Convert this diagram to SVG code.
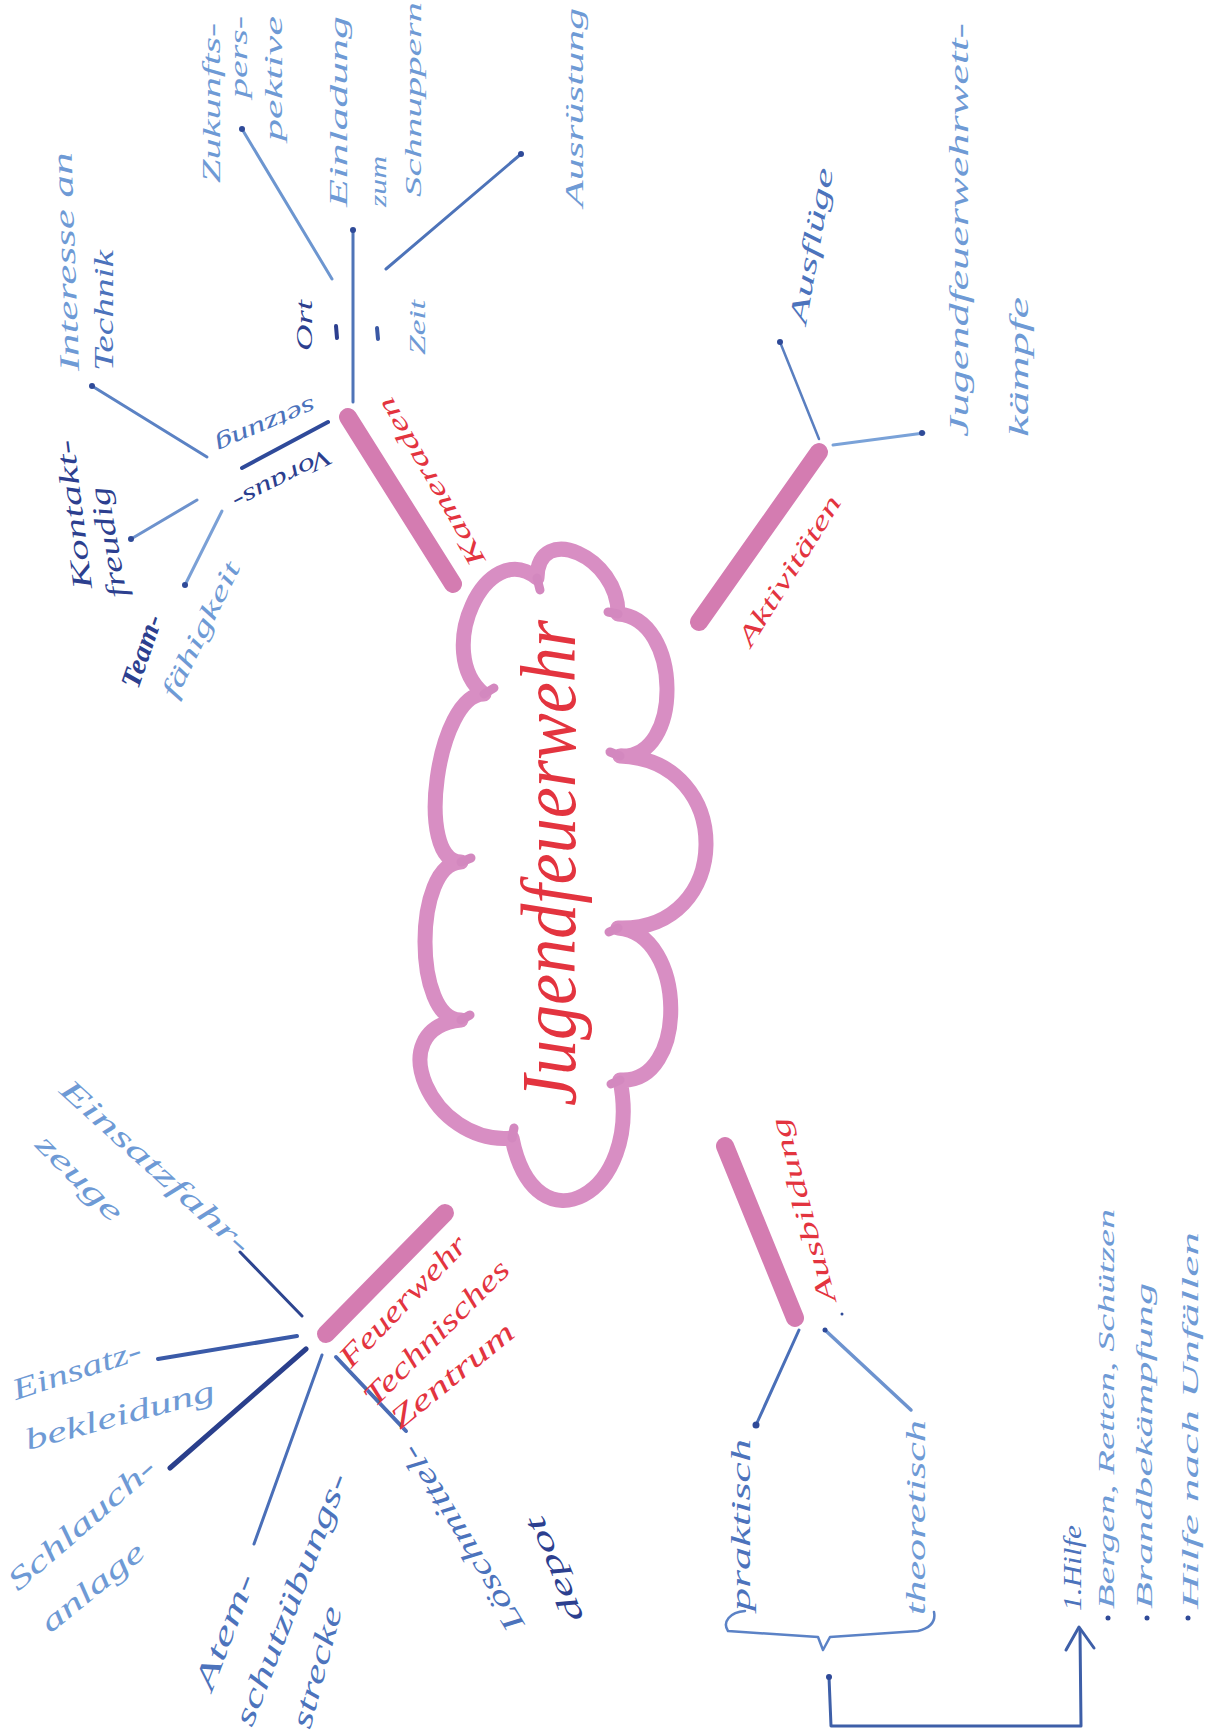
<svg xmlns="http://www.w3.org/2000/svg" width="1224" height="1731" viewBox="0 0 1224 1731">
<style>
.hw{font-family:"Liberation Serif","DejaVu Serif",serif;font-style:italic}
.red{fill:#e3343f}
.lb{fill:#6e9ad5}
.mb{fill:#4c73bc}
.db{fill:#2c3f8f}
.bar{stroke:#d47cb1;stroke-width:18;stroke-linecap:round;fill:none}
.cloud{stroke:#d88ec3;stroke-width:15;fill:none;stroke-linecap:round;stroke-linejoin:round}
.tick{stroke:#d388bf;stroke-width:9;stroke-linecap:round}
.c{fill:none;stroke-linecap:round;stroke-linejoin:round}
.dot{fill:#2f4a98}
</style>
<rect x="0" y="0" width="1224" height="1731" fill="#ffffff"/>

<g id="center">
<path class="cloud" d="M537,578 C538,521 619,557 618,614 C682,618 684,760 620,756 C736,760 734,932 618,928 C687,933 689,1085 620,1080 C643,1195 535,1253 512,1138 C431,1146 380,1028 461,1020 C413,1021 413,863 461,862 C414,862 437,694 484,694 C433,653 486,537 537,578 Z"/>
<line class="tick" x1="537" y1="578" x2="540" y2="590"/>
<line class="tick" x1="618" y1="614" x2="608" y2="612"/>
<line class="tick" x1="620" y1="756" x2="610" y2="752"/>
<line class="tick" x1="618" y1="928" x2="609" y2="932"/>
<line class="tick" x1="620" y1="1080" x2="611" y2="1084"/>
<line class="tick" x1="512" y1="1138" x2="514" y2="1128"/>
<line class="tick" x1="461" y1="1020" x2="470" y2="1015"/>
<line class="tick" x1="461" y1="862" x2="471" y2="858"/>
<line class="tick" x1="484" y1="694" x2="494" y2="688"/>
<text class="hw red" font-size="78" textLength="486" lengthAdjust="spacingAndGlyphs" transform="translate(575,1106) rotate(-90)">Jugendfeuerwehr</text>
</g>

<g id="connectors">
<line class="bar" x1="348" y1="417" x2="453" y2="584"/>
<line class="bar" x1="819" y1="452" x2="699" y2="622"/>
<line class="bar" x1="445" y1="1213" x2="326" y2="1334"/>
<line class="bar" x1="725" y1="1146" x2="795" y2="1318"/>

<line class="c" x1="328" y1="422" x2="242" y2="468" stroke="#2f4a9a" stroke-width="4"/>
<line class="c" x1="207" y1="457" x2="92" y2="386" stroke="#5b82c4" stroke-width="3"/>
<line class="c" x1="197" y1="500" x2="131" y2="539" stroke="#6d92cd" stroke-width="3"/>
<line class="c" x1="222" y1="511" x2="185" y2="585" stroke="#7aa0d6" stroke-width="3"/>
<line class="c" x1="353" y1="402" x2="353" y2="230" stroke="#4f74b8" stroke-width="3"/>
<line class="c" x1="332" y1="279" x2="242" y2="129" stroke="#6d96d0" stroke-width="3"/>
<line class="c" x1="386" y1="269" x2="521" y2="154" stroke="#4d73b9" stroke-width="3"/>
<line class="c" x1="336" y1="326" x2="337" y2="338" stroke="#2c3f8f" stroke-width="4"/>
<line class="c" x1="377" y1="328" x2="378" y2="339" stroke="#3a58a4" stroke-width="4"/>

<line class="c" x1="819" y1="439" x2="780" y2="342" stroke="#5a7fc0" stroke-width="2.5"/>
<line class="c" x1="833" y1="445" x2="924" y2="433" stroke="#7aa2d8" stroke-width="3"/>

<line class="c" x1="302" y1="1316" x2="240" y2="1252" stroke="#2d4590" stroke-width="3"/>
<line class="c" x1="297" y1="1336" x2="158" y2="1359" stroke="#3a5aa8" stroke-width="4"/>
<line class="c" x1="306" y1="1349" x2="170" y2="1468" stroke="#2a3f8c" stroke-width="5"/>
<line class="c" x1="322" y1="1355" x2="254" y2="1544" stroke="#4a6fb8" stroke-width="3"/>
<line class="c" x1="336" y1="1357" x2="406" y2="1431" stroke="#4a6cb5" stroke-width="4"/>

<line class="c" x1="799" y1="1330" x2="756" y2="1425" stroke="#4a6fb8" stroke-width="3"/>
<line class="c" x1="825" y1="1330" x2="911" y2="1410" stroke="#6d93cf" stroke-width="3.5"/>
<path class="c" d="M745,1611 C730,1612 722,1622 728,1631 L818,1637 L823,1650 L830,1637 L918,1631 C930,1628 936,1622 934,1612" stroke="#5b82c6" stroke-width="2.5"/>
<path class="c" d="M829,1677 L831,1726 L1081,1726 L1080,1630" stroke="#3e5fa8" stroke-width="3"/>
<path class="c" d="M1066,1650 L1079,1627 L1094,1648" stroke="#3e5fa8" stroke-width="3"/>

<circle class="dot" cx="92" cy="386" r="3"/>
<circle class="dot" cx="131" cy="539" r="3"/>
<circle class="dot" cx="185" cy="585" r="3"/>
<circle class="dot" cx="353" cy="230" r="3"/>
<circle class="dot" cx="242" cy="129" r="3"/>
<circle class="dot" cx="521" cy="154" r="3"/>
<circle class="dot" cx="780" cy="342" r="3"/>
<circle class="dot" cx="922" cy="433" r="3"/>
<circle class="dot" cx="756" cy="1425" r="3.5"/>
<circle class="dot" cx="825" cy="1330" r="2.5"/>
<circle class="dot" cx="829" cy="1677" r="3"/>
<circle class="dot" cx="842" cy="1314" r="1.5"/>
</g>

<g id="kameraden">
<text class="hw red" font-size="26" textLength="190" lengthAdjust="spacingAndGlyphs" transform="translate(486,560) rotate(-120)">Kameraden</text>
</g>
<g id="voraussetzung">
<text class="hw db" font-size="24" textLength="108" lengthAdjust="spacingAndGlyphs" transform="translate(327,448) rotate(153)">Voraus-</text>
<text class="hw mb" font-size="24" textLength="107" lengthAdjust="spacingAndGlyphs" transform="translate(312,398) rotate(157)">setzung</text>
</g>
<g id="interesse">
<text class="hw lb" font-size="28" textLength="219" lengthAdjust="spacingAndGlyphs" transform="translate(79,371) rotate(-92)">Interesse an</text>
<text class="hw mb" font-size="28" textLength="121" lengthAdjust="spacingAndGlyphs" transform="translate(113,371) rotate(-90)">Technik</text>
</g>
<g id="kontakt">
<text class="hw db" font-size="28" textLength="150" lengthAdjust="spacingAndGlyphs" transform="translate(92,588) rotate(-97)">Kontakt-</text>
<text class="hw db" font-size="28" textLength="112" lengthAdjust="spacingAndGlyphs" transform="translate(127,596) rotate(-100)">freudig</text>
</g>
<g id="team">
<text class="hw db" font-size="28" font-weight="bold" textLength="76" lengthAdjust="spacingAndGlyphs" transform="translate(138,690) rotate(-71)">Team-</text>
<text class="hw lb" font-size="26" textLength="148" lengthAdjust="spacingAndGlyphs" transform="translate(176,700) rotate(-64)">fähigkeit</text>
</g>
<g id="ort">
<text class="hw db" font-size="24" textLength="51" lengthAdjust="spacingAndGlyphs" transform="translate(312,351) rotate(-90)">Ort</text>
</g>
<g id="zeit">
<text class="hw lb" font-size="24" textLength="55" lengthAdjust="spacingAndGlyphs" transform="translate(425,355) rotate(-90)">Zeit</text>
</g>
<g id="einladung">
<text class="hw lb" font-size="26" textLength="191" lengthAdjust="spacingAndGlyphs" transform="translate(347,207) rotate(-90)">Einladung</text>
<text class="hw lb" font-size="24" textLength="51" lengthAdjust="spacingAndGlyphs" transform="translate(386,207) rotate(-90)">zum</text>
<text class="hw lb" font-size="24" textLength="195" lengthAdjust="spacingAndGlyphs" transform="translate(421,197) rotate(-90)">Schnuppern</text>
</g>
<g id="zukunft">
<text class="hw lb" font-size="26" textLength="160" lengthAdjust="spacingAndGlyphs" transform="translate(220,183) rotate(-90)">Zukunfts-</text>
<text class="hw lb" font-size="26" textLength="82" lengthAdjust="spacingAndGlyphs" transform="translate(247,98) rotate(-90)">pers-</text>
<text class="hw lb" font-size="26" textLength="125" lengthAdjust="spacingAndGlyphs" transform="translate(282,141) rotate(-90)">pektive</text>
</g>
<g id="ausruestung">
<text class="hw lb" font-size="26" textLength="199" lengthAdjust="spacingAndGlyphs" transform="translate(583,207) rotate(-90)">Ausrüstung</text>
</g>

<g id="aktivitaeten">
<text class="hw red" font-size="26" textLength="172" lengthAdjust="spacingAndGlyphs" transform="translate(751,648) rotate(-58)">Aktivitäten</text>
</g>
<g id="ausfluege">
<text class="hw mb" font-size="26" textLength="158" lengthAdjust="spacingAndGlyphs" transform="translate(806,325) rotate(-80)">Ausflüge</text>
</g>
<g id="wettkaempfe">
<text class="hw lb" font-size="28" textLength="414" lengthAdjust="spacingAndGlyphs" transform="translate(968,437) rotate(-90)">Jugendfeuerwehrwett-</text>
<text class="hw lb" font-size="28" textLength="140" lengthAdjust="spacingAndGlyphs" transform="translate(1028,437) rotate(-90)">kämpfe</text>
</g>

<g id="ftz">
<text class="hw red" font-size="30" textLength="170" lengthAdjust="spacingAndGlyphs" transform="translate(351,1369) rotate(-46)">Feuerwehr</text>
<text class="hw red" font-size="30" textLength="193" lengthAdjust="spacingAndGlyphs" transform="translate(375,1408) rotate(-45)">Technisches</text>
<text class="hw red" font-size="30" textLength="150" lengthAdjust="spacingAndGlyphs" transform="translate(400,1430) rotate(-39)">Zentrum</text>
</g>
<g id="einsatzfahrzeuge">
<text class="hw lb" font-size="30" textLength="245" lengthAdjust="spacingAndGlyphs" transform="translate(58,1092) rotate(42)">Einsatzfahr-</text>
<text class="hw lb" font-size="30" textLength="110" lengthAdjust="spacingAndGlyphs" transform="translate(34,1146) rotate(45)">zeuge</text>
</g>
<g id="einsatzbekleidung">
<text class="hw lb" font-size="30" textLength="134" lengthAdjust="spacingAndGlyphs" transform="translate(16,1400) rotate(-18)">Einsatz-</text>
<text class="hw lb" font-size="30" textLength="195" lengthAdjust="spacingAndGlyphs" transform="translate(28,1450) rotate(-15)">bekleidung</text>
</g>
<g id="schlauchanlage">
<text class="hw lb" font-size="30" textLength="185" lengthAdjust="spacingAndGlyphs" transform="translate(18,1592) rotate(-41)">Schlauch-</text>
<text class="hw lb" font-size="30" textLength="125" lengthAdjust="spacingAndGlyphs" transform="translate(50,1634) rotate(-39)">anlage</text>
</g>
<g id="atemschutz">
<text class="hw mb" font-size="30" textLength="122" lengthAdjust="spacingAndGlyphs" transform="translate(212,1692) rotate(-69)">Atem-</text>
<text class="hw mb" font-size="30" textLength="268" lengthAdjust="spacingAndGlyphs" transform="translate(252,1728) rotate(-69)">schutzübungs-</text>
<text class="hw mb" font-size="30" textLength="125" lengthAdjust="spacingAndGlyphs" transform="translate(310,1730) rotate(-75)">strecke</text>
</g>
<g id="loeschmittel">
<text class="hw mb" font-size="30" textLength="212" lengthAdjust="spacingAndGlyphs" transform="translate(525,1624) rotate(-121)">Löschmittel-</text>
<text class="hw db" font-size="30" textLength="112" lengthAdjust="spacingAndGlyphs" transform="translate(584,1618) rotate(-112)">depot</text>
</g>

<g id="ausbildung">
<text class="hw red" font-size="26" textLength="190" lengthAdjust="spacingAndGlyphs" transform="translate(836,1300) rotate(-105)">Ausbildung</text>
</g>
<g id="praktisch">
<text class="hw mb" font-size="28" textLength="172" lengthAdjust="spacingAndGlyphs" transform="translate(750,1611) rotate(-90)">praktisch</text>
</g>
<g id="theoretisch">
<text class="hw lb" font-size="28" textLength="195" lengthAdjust="spacingAndGlyphs" transform="translate(925,1615) rotate(-90)">theoretisch</text>
</g>
<g id="liste">
<text class="hw mb" font-size="26" textLength="86" lengthAdjust="spacingAndGlyphs" transform="translate(1081,1611) rotate(-90)">1.Hilfe</text>
<circle class="dot" cx="1108" cy="1618" r="2.5"/>
<text class="hw lb" font-size="24" textLength="400" lengthAdjust="spacingAndGlyphs" transform="translate(1114,1609) rotate(-90)">Bergen, Retten, Schützen</text>
<circle class="dot" cx="1147" cy="1618" r="2.5"/>
<text class="hw lb" font-size="24" textLength="326" lengthAdjust="spacingAndGlyphs" transform="translate(1152,1609) rotate(-90)">Brandbekämpfung</text>
<circle class="dot" cx="1188" cy="1618" r="2.5"/>
<text class="hw lb" font-size="24" textLength="377" lengthAdjust="spacingAndGlyphs" transform="translate(1198,1609) rotate(-90)">Hilfe nach Unfällen</text>
</g>
</svg>
